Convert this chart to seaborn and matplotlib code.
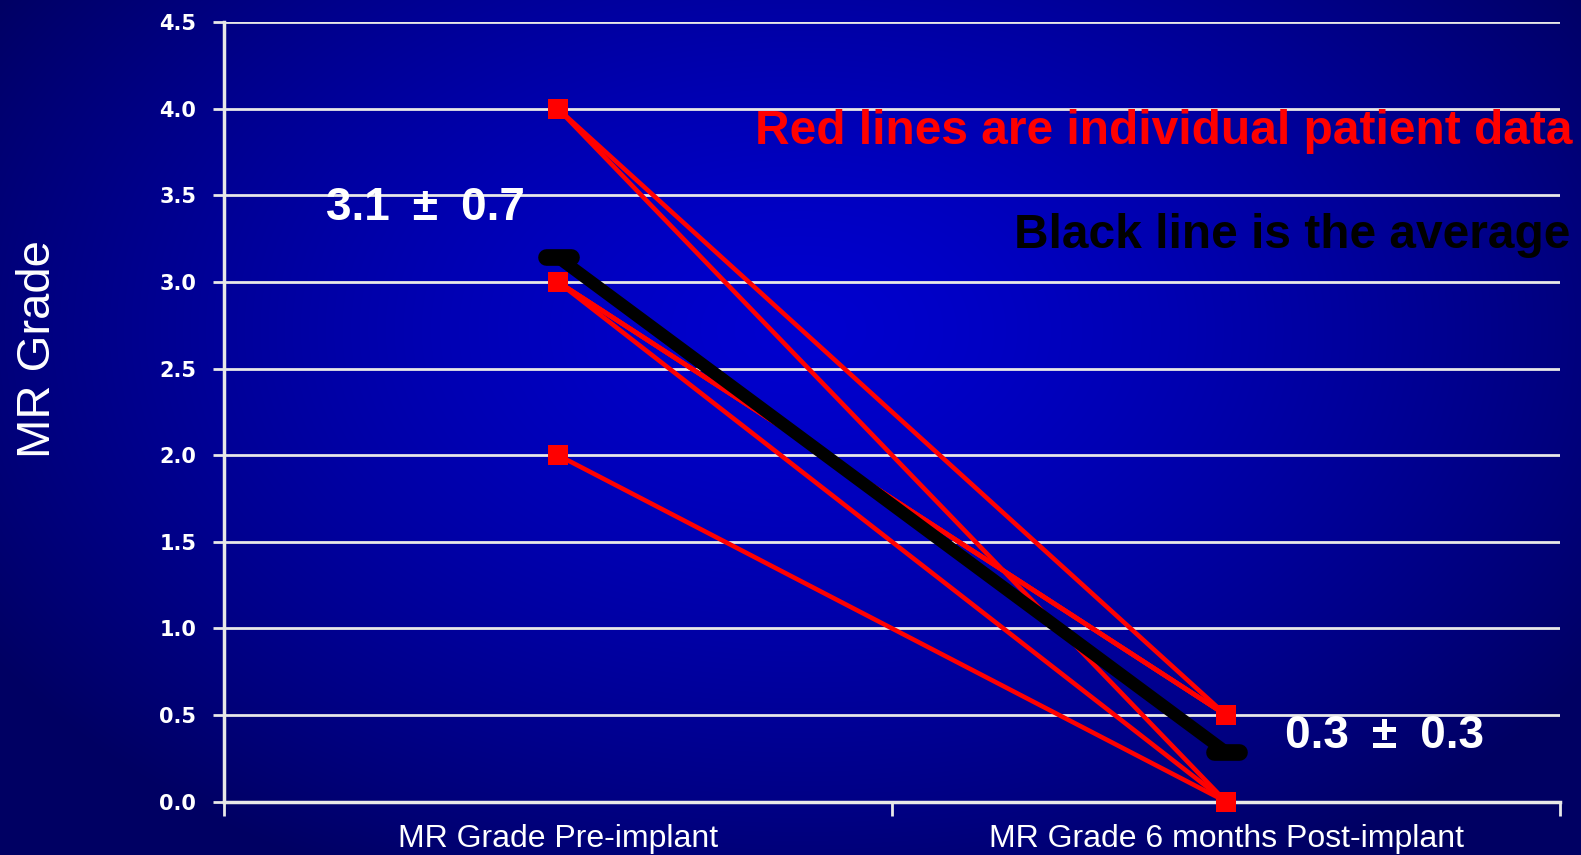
import numpy as np
import pandas as pd
import matplotlib.pyplot as plt
import seaborn as sns
from matplotlib.markers import MarkerStyle

sns.set_theme(style="white")
plt.rcParams['font.family'] = ['Liberation Sans', 'DejaVu Sans']

# Data: one entry per patient
timepoints = ["MR Grade Pre-implant", "MR Grade 6 months Post-implant"]
pre_grade = [4.0, 4.0, 3.0, 3.0, 3.0, 3.0, 2.0]
post_grade = [0.5, 0.0, 0.5, 0.5, 0.5, 0.0, 0.0]
y_ticks = [0.0, 0.5, 1.0, 1.5, 2.0, 2.5, 3.0, 3.5, 4.0, 4.5]

rows = []
for i, (a, b) in enumerate(zip(pre_grade, post_grade)):
    rows.append({"patient": i, "time": timepoints[0], "grade": a})
    rows.append({"patient": i, "time": timepoints[1], "grade": b})
df = pd.DataFrame(rows)

W, H = 1581, 855
fig = plt.figure(figsize=(W / 100, H / 100), dpi=100)

# radial blue background like the slide
bg = fig.add_axes([0, 0, 1, 1], zorder=-5)
yy, xx = np.mgrid[0:H, 0:W]
d = np.sqrt(((xx - 800) / 950.0) ** 2 + ((yy - 330) / 620.0) ** 2)
t = np.clip(d, 0, 1) ** 1.4
blue = 0.81 - (0.81 - 0.39) * t
img = np.dstack([np.zeros_like(blue), np.zeros_like(blue), blue])
bg.imshow(img, aspect='auto', extent=[0, 1, 0, 1])
bg.axis('off')

ax = fig.add_axes([224 / W, 1 - 801.6 / H, (1560 - 224) / W, (801.6 - 22.2) / H])
ax.set_facecolor('none')

# individual patients
sns.lineplot(data=df, x="time", y="grade", units="patient", estimator=None,
             sort=False, color="#FF0000", linewidth=3.3, marker="s",
             markersize=15, markeredgewidth=0, ax=ax, zorder=3, clip_on=False)

# average
sns.lineplot(data=df, x="time", y="grade", estimator="mean", errorbar=None,
             sort=False, color="black", linewidth=9,
             marker=MarkerStyle("_", capstyle="round"), markersize=18,
             markeredgewidth=12, markeredgecolor="black", ax=ax, zorder=4,
             clip_on=False)

ax.set_xlim(-0.5, 1.5)
ax.set_ylim(0, 4.5)
ax.set_yticks(y_ticks)
ax.set_yticklabels([f"{v:.1f}" for v in y_ticks], fontsize=15,
                   fontweight="bold", color="white", family="DejaVu Sans")
ax.set_xticks([0, 1])
ax.set_xticklabels(timepoints, fontsize=23, color="white")
ax.set_xticks([-0.5, 0.5, 1.5], minor=True)
ax.tick_params(axis="x", which="major", length=0, pad=16)
ax.tick_params(axis="x", which="minor", length=10, width=2, color="#E8E8E8",
               direction="out", bottom=True)
ax.tick_params(axis="y", length=8, width=2, color="#E8E8E8", direction="out",
               pad=12, left=True)
ax.set_xlabel("")
ax.set_ylabel("")

ax.grid(axis="y", color="#E8E8E8", linewidth=2)
ax.grid(axis="x", visible=False)
for s in ["top", "right"]:
    ax.spines[s].set_visible(False)
for s in ["left", "bottom"]:
    ax.spines[s].set_color("#E8E8E8")
    ax.spines[s].set_linewidth(2.5)

fig.text(38 / W, 1 - 349 / H, "MR Grade", rotation=90, ha="center",
         va="center", fontsize=34, color="white")

ax.text(1.519, 3.87, "Red lines are individual patient data", ha="right",
        va="center", fontsize=34.5, fontweight="bold", color="#FF0000",
        clip_on=False)
ax.text(1.515, 3.27, "Black line is the average", ha="right", va="center",
        fontsize=34.5, fontweight="bold", color="black", clip_on=False)
ax.text(-0.348, 3.43, "3.1\u2002\u00b1\u20020.7", ha="left", va="center",
        fontsize=33, fontweight="bold", color="white")
ax.text(1.088, 0.38, "0.3\u2002\u00b1\u20020.3", ha="left", va="center",
        fontsize=33, fontweight="bold", color="white")

fig.savefig("out.png", dpi=100)
